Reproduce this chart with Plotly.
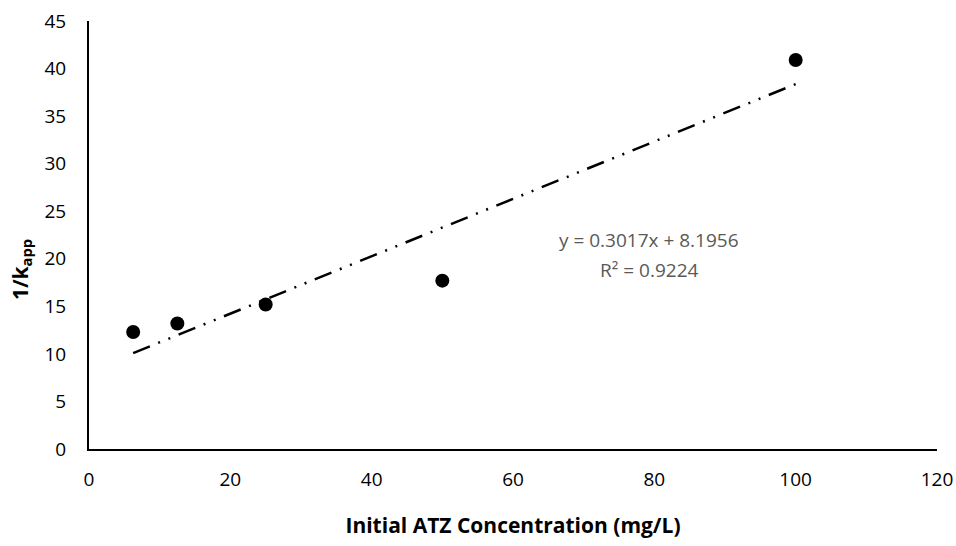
import plotly.graph_objects as go

conc = [6.25, 12.5, 25, 50, 100]
inv_k = [12.3, 13.2, 15.2, 17.7, 40.9]
slope = 0.3017
intercept = 8.1956
r2 = 0.9224
x_ticks = [0, 20, 40, 60, 80, 100, 120]
y_ticks = [0, 5, 10, 15, 20, 25, 30, 35, 40, 45]

fit_x = [min(conc), max(conc)]
fit_y = [slope * v + intercept for v in fit_x]

FONT = "Open Sans, Liberation Sans, sans-serif"

fig = go.Figure()
fig.add_trace(go.Scatter(x=fit_x, y=fit_y, mode="lines",
                         line=dict(color="black", width=2.5, dash="18px,9px,2px,9px,2px,9px"),
                         showlegend=False, hoverinfo="skip"))
fig.add_trace(go.Scatter(x=conc, y=inv_k, mode="markers",
                         marker=dict(color="black", size=14),
                         showlegend=False))

fig.add_annotation(x=79.3, y=22.0, xref="x", yref="y",
                   text=f"y = {slope}x + {intercept}",
                   showarrow=False, align="center",
                   font=dict(family=FONT, size=19, color="#595959"))
fig.add_annotation(x=79.3, y=18.8, xref="x", yref="y",
                   text=f"R² = {r2}",
                   showarrow=False, align="center",
                   font=dict(family=FONT, size=19, color="#595959"))

# y-axis title placed like the reference (slightly below the plot middle)
fig.add_annotation(x=0, y=0.418, xref="paper", yref="paper", xshift=-68,
                   text="<b>1/k<sub>app</sub></b>", textangle=-90,
                   showarrow=False, xanchor="center", yanchor="middle",
                   font=dict(family=FONT, size=21, color="black"))

fig.update_layout(
    width=956, height=546,
    margin=dict(l=89, r=19, t=21, b=97),
    paper_bgcolor="white", plot_bgcolor="white",
    font=dict(family=FONT, size=19, color="black"),
    xaxis=dict(range=[0, 120], tickvals=x_ticks, showgrid=False, zeroline=False,
               showline=True, linecolor="black", linewidth=2, ticks="",
               automargin=False,
               ticklabelstandoff=12, tickfont=dict(size=19, color="black"),
               title=dict(text="<b>Initial ATZ Concentration (mg/L)</b>", standoff=28,
                          font=dict(size=21, color="black"))),
    yaxis=dict(range=[0, 45], tickvals=y_ticks, showgrid=False, zeroline=False,
               showline=True, linecolor="black", linewidth=2, ticks="",
               automargin=False,
               ticklabelstandoff=17, tickfont=dict(size=19, color="black")),
)
fig.write_html("out.html")
